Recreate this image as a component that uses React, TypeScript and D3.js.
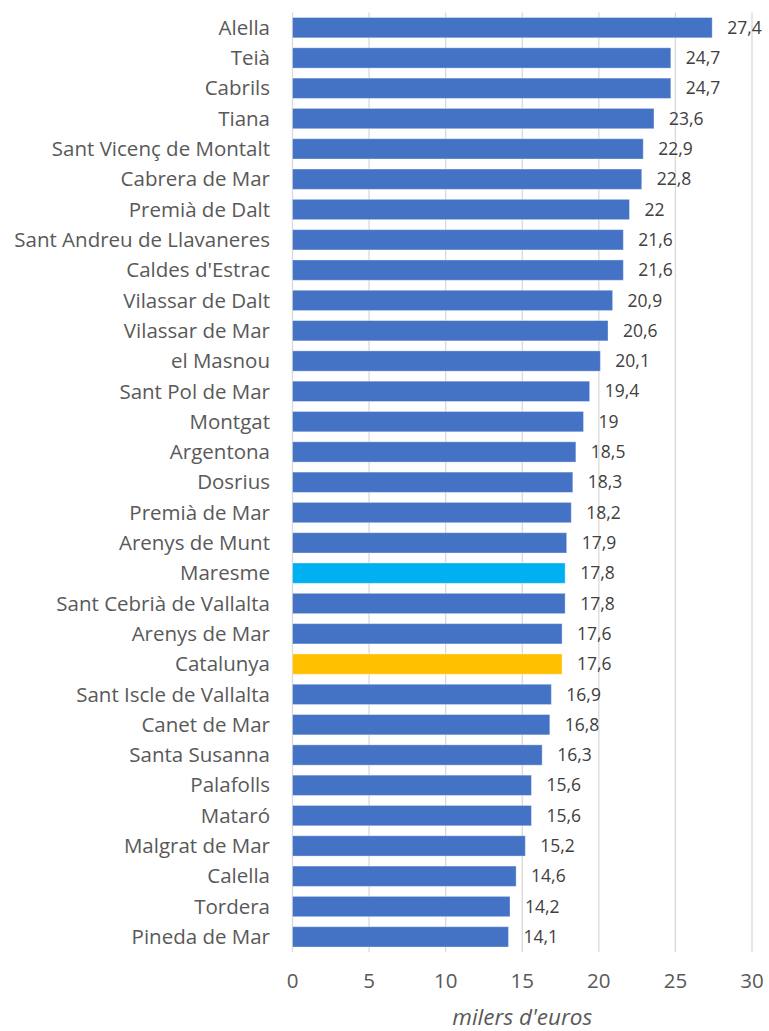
import * as d3 from "d3";
import { useEffect, useRef } from "react";

const categories = [
  "Alella", "Teià", "Cabrils", "Tiana", "Sant Vicenç de Montalt", "Cabrera de Mar",
  "Premià de Dalt", "Sant Andreu de Llavaneres", "Caldes d'Estrac", "Vilassar de Dalt",
  "Vilassar de Mar", "el Masnou", "Sant Pol de Mar", "Montgat", "Argentona", "Dosrius",
  "Premià de Mar", "Arenys de Munt", "Maresme", "Sant Cebrià de Vallalta", "Arenys de Mar",
  "Catalunya", "Sant Iscle de Vallalta", "Canet de Mar", "Santa Susanna", "Palafolls",
  "Mataró", "Malgrat de Mar", "Calella", "Tordera", "Pineda de Mar",
];
const values = [
  27.4, 24.7, 24.7, 23.6, 22.9, 22.8, 22, 21.6, 21.6, 20.9, 20.6, 20.1, 19.4, 19, 18.5,
  18.3, 18.2, 17.9, 17.8, 17.8, 17.6, 17.6, 16.9, 16.8, 16.3, 15.6, 15.6, 15.2, 14.6, 14.2, 14.1,
];
const xTicks = [0, 5, 10, 15, 20, 25, 30];
const highlight: Record<string, string> = { Maresme: "#00B0F0", Catalunya: "#FFC000" };

const W = 769;
const H = 1031;
const FONT = "'Open Sans', sans-serif";

function App() {
  const ref = useRef<SVGSVGElement | null>(null);

  useEffect(() => {
    const svg = d3.select(ref.current);
    svg.selectAll("*").remove();

    const x = d3.scaleLinear().domain([0, 30]).range([292.5, 752]);
    const y = d3.scaleBand().domain(categories).range([12.5, 952]).paddingInner(0.33).paddingOuter(0.165);

    // gridlines
    svg
      .append("g")
      .selectAll("line")
      .data(xTicks)
      .join("line")
      .attr("x1", (d) => x(d))
      .attr("x2", (d) => x(d))
      .attr("y1", 12.5)
      .attr("y2", 952)
      .attr("stroke", "#d9d9d9")
      .attr("stroke-width", 1.3);

    // bars
    svg
      .append("g")
      .selectAll("rect")
      .data(values)
      .join("rect")
      .attr("x", x(0))
      .attr("y", (_, i) => y(categories[i]) as number)
      .attr("width", (d) => x(d) - x(0))
      .attr("height", y.bandwidth())
      .attr("fill", (_, i) => highlight[categories[i]] || "#4472C4")
      .attr("stroke", "#ffffff")
      .attr("stroke-opacity", 0.35)
      .attr("stroke-width", 1);

    // category labels
    svg
      .append("g")
      .selectAll("text")
      .data(categories)
      .join("text")
      .attr("x", 270)
      .attr("y", (d) => (y(d) as number) + y.bandwidth() / 2)
      .attr("dy", "0.35em")
      .attr("text-anchor", "end")
      .attr("font-family", FONT)
      .attr("font-size", 20.5)
      .attr("fill", "#595959")
      .text((d) => d);

    // value labels
    svg
      .append("g")
      .selectAll("text")
      .data(values)
      .join("text")
      .attr("x", (d) => x(d) + 15)
      .attr("y", (_, i) => (y(categories[i]) as number) + y.bandwidth() / 2)
      .attr("dy", "0.35em")
      .attr("font-family", FONT)
      .attr("font-size", 17.5)
      .attr("fill", "#404040")
      .text((d) => String(d).replace(".", ","));

    // x tick labels
    svg
      .append("g")
      .selectAll("text")
      .data(xTicks)
      .join("text")
      .attr("x", (d) => x(d))
      .attr("y", 988)
      .attr("text-anchor", "middle")
      .attr("font-family", FONT)
      .attr("font-size", 20.5)
      .attr("fill", "#595959")
      .text((d) => d);

    // axis title
    svg
      .append("text")
      .attr("x", x(15))
      .attr("y", 1025)
      .attr("text-anchor", "middle")
      .attr("font-family", FONT)
      .attr("font-style", "italic")
      .attr("font-size", 22.5)
      .attr("fill", "#595959")
      .text("milers d'euros");
  }, []);

  return (
    <svg
      ref={ref}
      width={W}
      height={H}
      style={{ position: "absolute", left: 0, top: 0, background: "#fff" }}
    ></svg>
  );
}

export default App;
